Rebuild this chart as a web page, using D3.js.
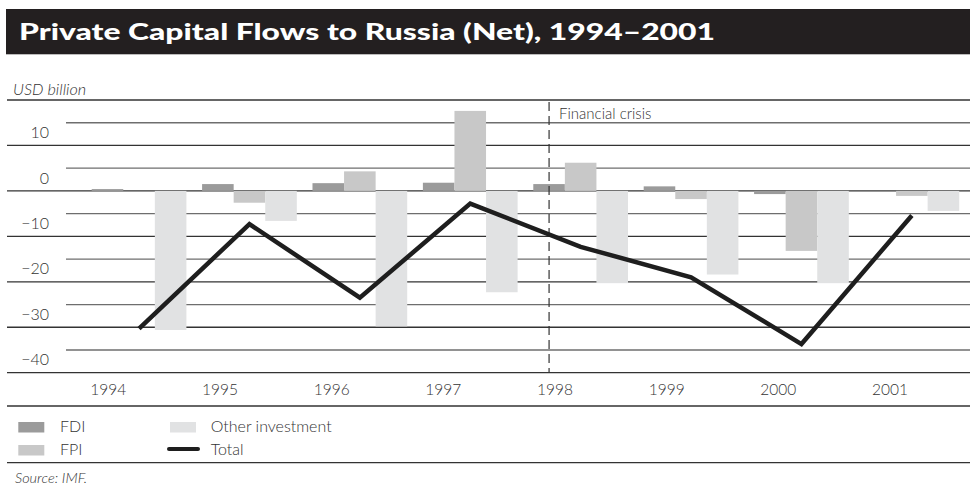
<!DOCTYPE html>
<html><head><meta charset="utf-8">
<script src="https://cdn.jsdelivr.net/npm/d3@7"></script>
<style>
body{margin:0;background:#fff;}
text{font-family:Lato,"Open Sans","DejaVu Sans",sans-serif;}
</style></head>
<body><svg id="c" width="970" height="490"></svg>
<script>
const years = ["1994","1995","1996","1997","1998","1999","2000","2001"];
const seriesNames = ["FDI","FPI","Other investment"];
const fdi   = [0.4, 1.5, 1.7, 1.8, 1.5, 1.0, -0.7, 0];
const fpi   = [0, -2.6, 4.3, 17.6, 6.2, -1.8, -13.2, -1.1];
const other = [-30.6, -6.6, -29.8, -22.3, -20.3, -18.4, -20.3, -4.4];
const total = [-30.3, -7.3, -23.5, -2.8, -12.3, -19.0, -33.7, -5.4];
const yTicks = [10, 0, -10, -20, -30, -40];
const colors = {"FDI":"#9b9b9b","FPI":"#c8c8c8","Other investment":"#e1e2e3"};

const svg = d3.select("#c");
const y = d3.scaleLinear().domain([-40,20]).range([372.7,100]);
const x = d3.scaleBand().domain(years).range([83.85,967.05]).paddingInner(0.142).paddingOuter(0.071);
const sub = d3.scaleBand().domain(seriesNames).range([0,x.bandwidth()]);
const xl = d3.scalePoint().domain(years).range([108.3,890]);

// title bar
svg.append("rect").attr("x",6).attr("y",9).attr("width",964).attr("height",45.3).attr("fill","#231f20");
svg.append("text").attr("x",19).attr("y",40).attr("fill","#fff").attr("font-size",23).attr("font-weight",900)
  .attr("textLength",696).attr("lengthAdjust","spacingAndGlyphs")
  .text("Private Capital Flows to Russia (Net), 1994–2001");

svg.append("text").attr("x",13).attr("y",95).attr("font-size",16.2).attr("font-style","italic").attr("font-weight",300).attr("fill","#333").text("USD billion");

// grid
const gv = d3.range(-40,21,5);
svg.append("g").selectAll("line").data(gv).join("line")
  .attr("x1",d=>d%10===0?7:66).attr("x2",970)
  .attr("y1",d=>y(d)).attr("y2",d=>y(d))
  .attr("stroke",d=>d%10===0?"#333":"#6e6e6e").attr("stroke-width",1.3);

svg.append("g").selectAll("text").data(yTicks).join("text")
  .attr("x",49).attr("y",d=>y(d)-13).attr("dy","0.35em").attr("text-anchor","end")
  .attr("font-size",16).attr("font-weight",300).attr("fill","#333")
  .text(d=>d<0?"−"+Math.abs(d):d);

// bars
const data = years.map((yr,i)=>({yr, vals:[fdi[i],fpi[i],other[i]]}));
const g = svg.append("g");
data.forEach(d=>{
  seriesNames.forEach((s,j)=>{
    const v = d.vals[j];
    if (v===0) return;
    g.append("rect").attr("x",x(d.yr)+sub(s)).attr("width",sub.bandwidth())
      .attr("y",y(Math.max(0,v))).attr("height",Math.abs(y(v)-y(0))).attr("fill",colors[s]);
  });
});

// crisis line
const cx = x("1998")+sub("FDI")+sub.bandwidth()/2;
svg.append("line").attr("x1",cx).attr("x2",cx).attr("y1",y(20)+2).attr("y2",y(-40))
  .attr("stroke","#333").attr("stroke-width",1.2).attr("stroke-dasharray","9,5");
svg.append("text").attr("x",cx+10).attr("y",114).attr("dy","0.35em").attr("font-size",15).attr("font-weight",300).attr("fill","#333").text("Financial crisis");

// total line
const line = d3.line().x((d,i)=>x(years[i])+sub("FPI")+sub.bandwidth()/2).y(d=>y(d));
svg.append("path").datum(total).attr("d",line).attr("fill","none").attr("stroke","#1e1e1e")
  .attr("stroke-width",4.5).attr("stroke-linejoin","miter");

// x labels
svg.append("g").selectAll("text").data(years).join("text")
  .attr("x",d=>xl(d)).attr("y",390).attr("dy","0.35em").attr("text-anchor","middle")
  .attr("font-size",15.5).attr("font-weight",300).attr("fill","#333").text(d=>d);

// legend
svg.append("line").attr("x1",7).attr("x2",970).attr("y1",406).attr("y2",406).attr("stroke","#333").attr("stroke-width",1.3);
const leg = [
  {name:"FDI", x:18.3, y:422, tx:60},
  {name:"FPI", x:18.3, y:445, tx:60},
  {name:"Other investment", x:170, y:422, tx:210.7}
];
leg.forEach(l=>{
  svg.append("rect").attr("x",l.x).attr("y",l.y).attr("width",26).attr("height",10.5).attr("fill",colors[l.name]);
  svg.append("text").attr("x",l.tx).attr("y",l.y+4).attr("dy","0.35em").attr("font-size",16).attr("font-weight",300).attr("fill","#333").text(l.name);
});
svg.append("line").attr("x1",169).attr("x2",198).attr("y1",449).attr("y2",449).attr("stroke","#1e1e1e").attr("stroke-width",4).attr("stroke-linecap","round");
svg.append("text").attr("x",210.7).attr("y",449).attr("dy","0.35em").attr("font-size",16).attr("font-weight",300).attr("fill","#333").text("Total");

svg.append("line").attr("x1",7).attr("x2",970).attr("y1",462.7).attr("y2",462.7).attr("stroke","#333").attr("stroke-width",1.3);
svg.append("text").attr("x",15).attr("y",478).attr("dy","0.35em").attr("font-size",14.5).attr("font-style","italic").attr("font-weight",300).attr("fill","#333").text("Source: IMF.");
</script></body></html>
